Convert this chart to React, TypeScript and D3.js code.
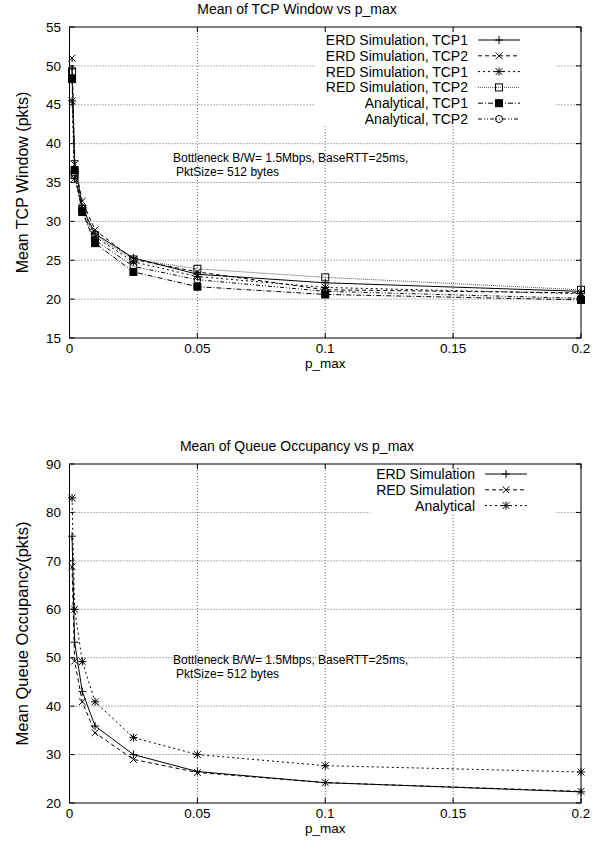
import React, { useEffect, useRef } from 'react';
import * as d3 from 'd3';

// p_max values used in both experiments
const pMax = [0.001, 0.002, 0.005, 0.01, 0.025, 0.05, 0.1, 0.2];
const xTicks = [0, 0.05, 0.1, 0.15, 0.2];

// Mean TCP window (pkts)
const erdTcp1 = [49.6, 37.8, 31.8, 28.4, 25.3, 23.2, 22.1, 21.0];
const erdTcp2 = [51.0, 37.3, 32.6, 28.9, 25.1, 23.5, 21.2, 20.8];
const redTcp1 = [45.5, 35.5, 31.6, 28.0, 24.8, 22.9, 21.5, 20.7];
const redTcp2 = [49.3, 36.0, 31.6, 28.2, 25.1, 23.9, 22.8, 21.2];
const anaTcp1 = [48.3, 36.6, 31.2, 27.2, 23.5, 21.6, 20.6, 19.9];
const anaTcp2 = [48.4, 36.3, 31.3, 27.6, 24.2, 22.5, 21.0, 20.1];
const windowTicks = [15, 20, 25, 30, 35, 40, 45, 50, 55];

// Mean queue occupancy (pkts)
const erdQueue = [75.1, 53.2, 43.0, 35.9, 30.0, 26.5, 24.2, 22.3];
const redQueue = [68.8, 49.3, 40.9, 34.5, 29.0, 26.3, 24.2, 22.4];
const anaQueue = [83.0, 60.0, 49.2, 40.9, 33.5, 30.0, 27.7, 26.4];
const queueTicks = [20, 30, 40, 50, 60, 70, 80, 90];

const FONT = '"Liberation Sans", Arial, Helvetica, sans-serif';

type Mark = 'plus' | 'cross' | 'star' | 'box' | 'fbox' | 'circle';
type Series = { label: string; values: number[]; dash: string | null; mark: Mark; color?: string };

const windowSeries: Series[] = [
    { label: 'ERD Simulation, TCP1', values: erdTcp1, dash: null, mark: 'plus' },
    { label: 'ERD Simulation, TCP2', values: erdTcp2, dash: '4,3', mark: 'cross' },
    { label: 'RED Simulation, TCP1', values: redTcp1, dash: '2,3', mark: 'star' },
    { label: 'RED Simulation, TCP2', values: redTcp2, dash: '1,1', mark: 'box', color: '#555' },
    { label: 'Analytical, TCP1', values: anaTcp1, dash: '5,2,1,2', mark: 'fbox' },
    { label: 'Analytical, TCP2', values: anaTcp2, dash: '4,2,1,2,1,2', mark: 'circle' },
];

const queueSeries: Series[] = [
    { label: 'ERD Simulation', values: erdQueue, dash: null, mark: 'plus' },
    { label: 'RED Simulation', values: redQueue, dash: '4,3', mark: 'cross' },
    { label: 'Analytical', values: anaQueue, dash: '2,3', mark: 'star' },
];

const drawMark = (g, type: Mark, x: number, y: number) => {
    const s = 4;
    const line = (x1, y1, x2, y2) =>
        g.append('line').attr('x1', x1).attr('y1', y1).attr('x2', x2).attr('y2', y2)
            .attr('stroke', 'black').attr('stroke-width', 1);
    if (type === 'plus' || type === 'star') {
        line(x - s, y, x + s, y);
        line(x, y - s, x, y + s);
    }
    if (type === 'cross' || type === 'star') {
        line(x - s * 0.85, y - s * 0.85, x + s * 0.85, y + s * 0.85);
        line(x - s * 0.85, y + s * 0.85, x + s * 0.85, y - s * 0.85);
    }
    if (type === 'box' || type === 'fbox') {
        g.append('rect').attr('x', x - 3.5).attr('y', y - 3.5).attr('width', 7).attr('height', 7)
            .attr('fill', type === 'fbox' ? 'black' : 'none').attr('stroke', 'black');
    }
    if (type === 'circle') {
        g.append('circle').attr('cx', x).attr('cy', y).attr('r', 3.5)
            .attr('fill', 'none').attr('stroke', 'black');
    }
};

const drawPanel = (svg, p) => {
    const left = 69.5, right = 581;
    const x = d3.scaleLinear().domain([0, 0.2]).range([left, right]);
    const y = d3.scaleLinear().domain(p.domain).range([p.bottom, p.top]);
    const g = svg.append('g');

    // grid
    xTicks.slice(1, -1).forEach(t => {
        g.append('line').attr('x1', x(t)).attr('x2', x(t)).attr('y1', p.top).attr('y2', p.bottom)
            .attr('stroke', '#666').attr('stroke-dasharray', '1,2');
    });
    p.ticks.slice(1, -1).forEach(t => {
        g.append('line').attr('x1', left).attr('x2', right).attr('y1', y(t)).attr('y2', y(t))
            .attr('stroke', '#666').attr('stroke-dasharray', '1,2');
    });
    // key area is cleared of grid
    g.append('rect').attr('x', p.key.x0).attr('y', p.top + 1)
        .attr('width', p.key.x1 - p.key.x0).attr('height', p.key.y1 - p.top - 1).attr('fill', 'white');

    // border + inward ticks on all sides
    g.append('rect').attr('x', left).attr('y', p.top).attr('width', right - left).attr('height', p.bottom - p.top)
        .attr('fill', 'none').attr('stroke', 'black');
    xTicks.forEach(t => {
        g.append('line').attr('x1', x(t)).attr('x2', x(t)).attr('y1', p.bottom).attr('y2', p.bottom - 5).attr('stroke', 'black');
        g.append('line').attr('x1', x(t)).attr('x2', x(t)).attr('y1', p.top).attr('y2', p.top + 5).attr('stroke', 'black');
        g.append('text').attr('x', x(t)).attr('y', p.bottom + 15).attr('text-anchor', 'middle')
            .attr('font-size', 13.5).text(d3.format('~g')(t));
    });
    p.ticks.forEach(t => {
        g.append('line').attr('x1', left).attr('x2', left + 5).attr('y1', y(t)).attr('y2', y(t)).attr('stroke', 'black');
        g.append('line').attr('x1', right).attr('x2', right - 5).attr('y1', y(t)).attr('y2', y(t)).attr('stroke', 'black');
        g.append('text').attr('x', 61).attr('y', y(t)).attr('dy', '0.35em').attr('text-anchor', 'end')
            .attr('font-size', 13.5).text(t);
    });

    g.append('text').attr('x', 297).attr('y', p.top - 13).attr('text-anchor', 'middle')
        .attr('font-size', 14).text(p.title);
    g.append('text').attr('x', (left + right) / 2).attr('y', p.bottom + 30).attr('text-anchor', 'middle')
        .attr('font-size', 13.5).text('p_max');
    g.append('text').attr('transform', `translate(${p.ylabelX},${(p.top + p.bottom) / 2}) rotate(-90)`)
        .attr('text-anchor', 'middle').attr('font-size', p.ylabelSize).text(p.ylabel);

    // annotation
    g.append('text').attr('x', 173).attr('y', p.noteY).attr('font-size', 12)
        .text('Bottleneck B/W= 1.5Mbps, BaseRTT=25ms,');
    g.append('text').attr('x', 176).attr('y', p.noteY + 14).attr('font-size', 12)
        .text('PktSize= 512 bytes');

    const line = d3.line<number>().x((d, i) => x(pMax[i])).y(d => y(d));
    p.series.forEach((s: Series, k: number) => {
        g.append('path').attr('d', line(s.values)).attr('fill', 'none')
            .attr('stroke', s.color || 'black').attr('stroke-width', 1)
            .attr('stroke-dasharray', s.dash);
        s.values.forEach((v, i) => drawMark(g, s.mark, x(pMax[i]), y(v)));

        // key entry
        const ky = p.key.row0 + k * 15.8;
        const kx = p.key.textEnd;
        g.append('text').attr('x', kx).attr('y', ky).attr('dy', '0.35em').attr('text-anchor', 'end')
            .attr('font-size', 14).text(s.label);
        g.append('line').attr('x1', kx + 10).attr('x2', kx + 52).attr('y1', ky).attr('y2', ky)
            .attr('stroke', s.color || 'black').attr('stroke-dasharray', s.dash);
        drawMark(g, s.mark, kx + 31, ky);
    });
};

const App = () => {
    const svgRef = useRef(null);

    useEffect(() => {
        const svg = d3.select(svgRef.current);
        svg.selectAll('*').remove();
        svg.append('rect').attr('width', 594).attr('height', 843).attr('fill', 'white');

        drawPanel(svg, {
            top: 27, bottom: 338, domain: [15, 55], ticks: windowTicks,
            title: 'Mean of TCP Window vs p_max', ylabel: 'Mean TCP Window (pkts)',
            ylabelX: 28, ylabelSize: 16,
            series: windowSeries, noteY: 162,
            key: { x0: 315, x1: 556, y1: 126, row0: 40, textEnd: 468 },
        });
        drawPanel(svg, {
            top: 464, bottom: 803, domain: [20, 90], ticks: queueTicks,
            title: 'Mean of Queue Occupancy vs p_max', ylabel: 'Mean Queue Occupancy(pkts)',
            ylabelX: 28, ylabelSize: 16.5,
            series: queueSeries, noteY: 664,
            key: { x0: 370, x1: 556, y1: 514, row0: 474, textEnd: 475 },
        });
    }, []);

    return (
        <svg ref={svgRef} width={594} height={843}
            style={{ position: 'absolute', left: 0, top: 0, fontFamily: FONT, fontSize: 13 }} />
    );
};

export default App;
